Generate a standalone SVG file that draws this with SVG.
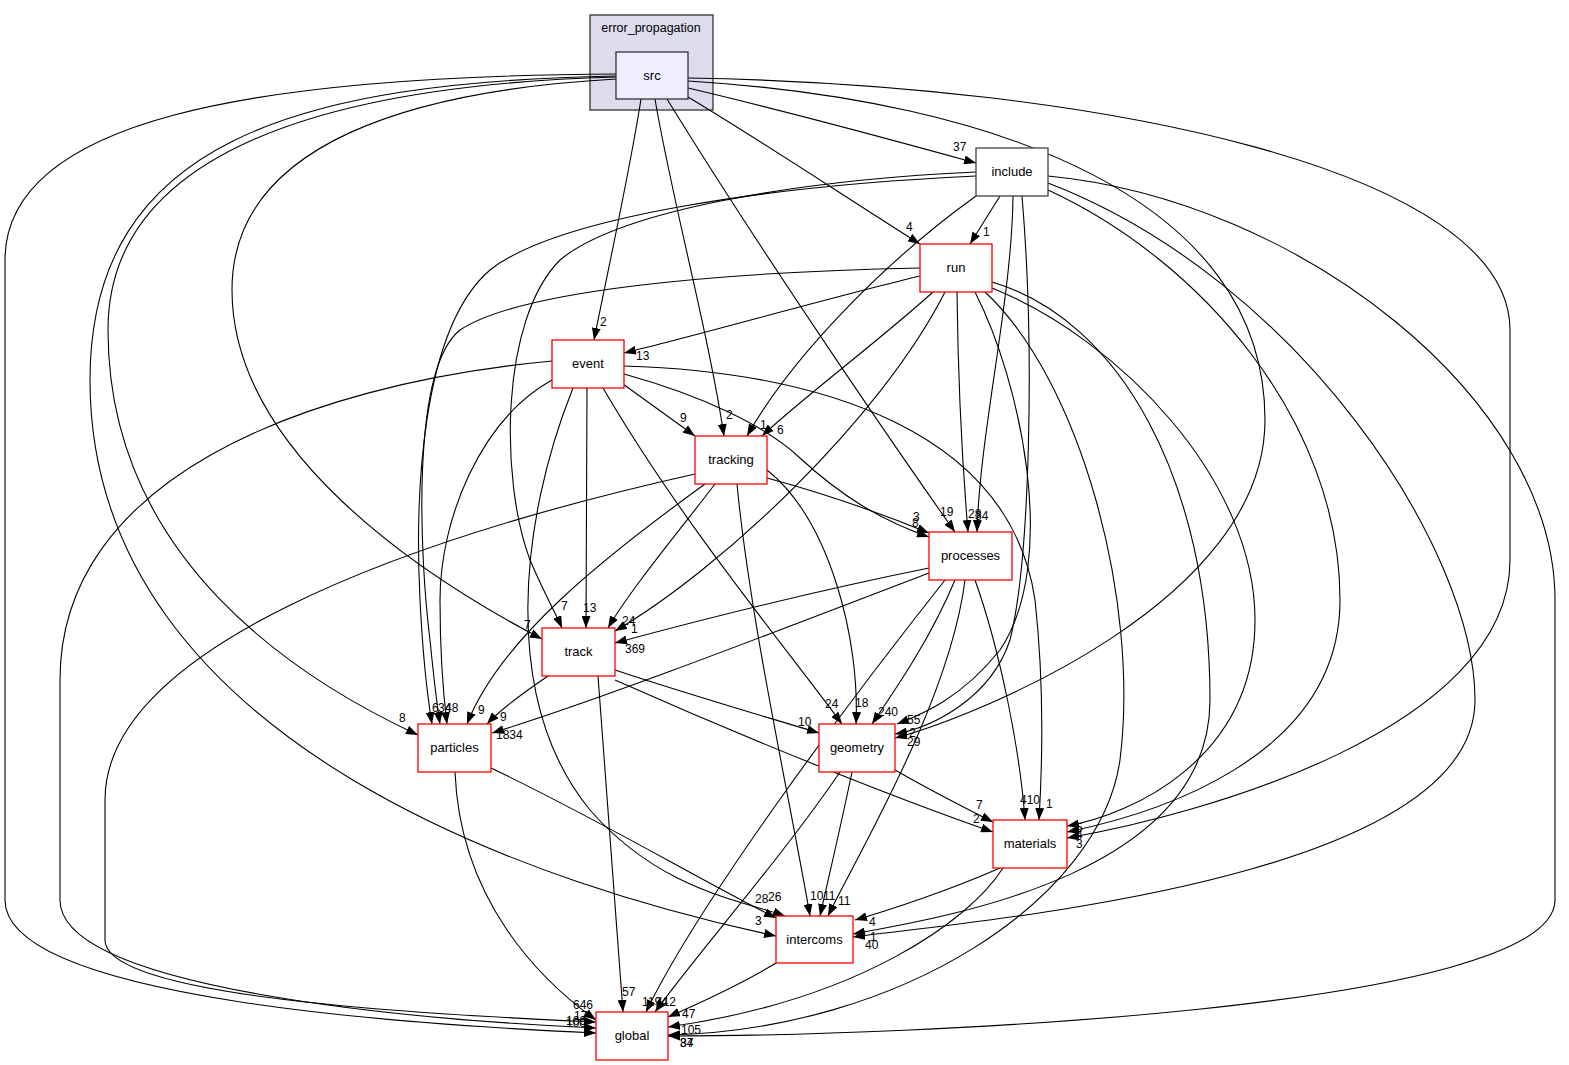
<svg xmlns="http://www.w3.org/2000/svg" width="1569" height="1065" viewBox="0 0 1569 1065">
<defs>
<marker id="ah" markerUnits="userSpaceOnUse" markerWidth="12" markerHeight="9" refX="12" refY="4.5" orient="auto">
<path d="M0,0 L12,4.5 L0,9 z" fill="#000"/>
</marker>
<style>
.bg{fill:#fff}
.cl{fill:#ddddee;stroke:#333;stroke-width:1.3}
.src{fill:#eeeeff;stroke:#333;stroke-width:1.3}
.inc{fill:#fff;stroke:#404040;stroke-width:1.3}
.dir{fill:#fff;stroke:#ff0000;stroke-width:1.3}
.nl{font-family:"Liberation Sans",Arial,sans-serif;font-size:13px;text-anchor:middle;fill:#000}
.cll{font-family:"Liberation Sans",Arial,sans-serif;font-size:12.5px;text-anchor:middle;fill:#000}
#edges path{fill:none;stroke:#000;stroke-width:1.1;marker-end:url(#ah)}
#labels text{font-family:"Liberation Sans",Arial,sans-serif;font-size:12px;fill:#000}
</style>
</defs>
<rect class="bg" x="0" y="0" width="1569" height="1065"/>
<g id="cluster_error_propagation">
<rect class="cl" x="590" y="15" width="123" height="95"/>
<text class="cll" x="651" y="32">error_propagation</text>
</g>
<g id="edges">
<path d="M688,88 C790,112 900,142 976,163"/>
<path d="M688,97 C760,140 850,200 920,244"/>
<path d="M641,99 C630,170 608,270 594,340"/>
<path d="M655,99 C672,200 708,330 724,436"/>
<path d="M667,99 C760,250 890,440 955,532"/>
<path d="M616,79 C420,90 232,140 232,290 C232,450 420,575 542,639"/>
<path d="M616,77 C330,85 108,150 108,330 C108,560 300,680 418,735"/>
<path d="M616,76 C300,82 90,140 90,380 C90,750 560,890 776,936"/>
<path d="M616,74 C250,76 5,120 5,260 L5,900 C5,1000 420,1025 596,1033"/>
<path d="M688,81 C1000,100 1265,200 1265,420 C1265,600 980,715 895,738"/>
<path d="M688,78 C1100,85 1510,170 1510,330 L1510,560 C1510,730 1200,815 1067,838"/>
<path d="M1000,196 L970,244"/>
<path d="M976,196 C880,265 790,360 747,436"/>
<path d="M976,172 C800,180 620,210 560,260 C500,320 500,480 530,560 C545,595 555,612 562,628"/>
<path d="M976,176 C780,185 560,215 490,270 C420,330 415,500 420,600 C423,660 428,700 432,724"/>
<path d="M1013,196 C1012,300 980,430 977,532"/>
<path d="M1022,196 C1035,350 1030,560 1010,640 C990,700 930,728 895,734"/>
<path d="M1048,190 C1200,260 1340,420 1340,600 C1340,760 1150,815 1067,832"/>
<path d="M1048,183 C1300,280 1475,550 1475,700 C1475,880 980,920 853,937"/>
<path d="M1048,176 C1300,200 1555,400 1555,600 L1555,900 C1555,1010 900,1036 668,1036"/>
<path d="M920,276 C820,300 700,335 624,353"/>
<path d="M933,292 C880,340 800,400 762,436"/>
<path d="M945,292 C880,420 720,570 615,631"/>
<path d="M957,292 C958,380 962,460 968,532"/>
<path d="M975,292 C1020,380 1060,560 1000,650 C960,700 920,715 897,724"/>
<path d="M992,288 C1120,340 1255,480 1255,620 C1255,760 1130,815 1067,826"/>
<path d="M992,282 C1120,320 1210,480 1210,700 C1210,870 960,915 853,934"/>
<path d="M985,292 C1080,380 1140,600 1120,760 C1100,900 900,1030 668,1035"/>
<path d="M920,268 C720,272 520,290 460,330 C410,370 420,560 430,640 C434,680 437,705 440,724"/>
<path d="M623,384 L695,436"/>
<path d="M624,374 C700,395 765,425 800,458 C840,495 880,520 929,537"/>
<path d="M587,388 L586,628"/>
<path d="M552,380 C480,420 440,520 440,600 C440,660 444,700 447,724"/>
<path d="M603,388 C680,520 780,640 842,724"/>
<path d="M573,388 C520,520 500,700 590,810 C660,890 740,900 785,916"/>
<path d="M552,361 C300,385 60,480 60,680 L60,900 C60,990 420,1020 596,1028"/>
<path d="M624,366 C820,372 1010,430 1035,600 C1045,690 1042,770 1039,820"/>
<path d="M767,478 C830,495 885,515 929,533"/>
<path d="M715,484 C680,530 630,590 608,628"/>
<path d="M705,484 C600,560 500,640 467,724"/>
<path d="M767,470 C830,520 860,640 856,724"/>
<path d="M737,484 C750,620 790,800 810,916"/>
<path d="M695,474 C400,540 105,650 105,800 L105,940 C105,1000 450,1015 596,1022"/>
<path d="M929,568 C820,590 700,620 615,643"/>
<path d="M929,573 C780,630 600,700 492,733"/>
<path d="M945,580 C850,700 700,900 646,1012"/>
<path d="M955,580 C930,640 895,690 872,724"/>
<path d="M965,580 C950,700 860,850 828,916"/>
<path d="M975,580 C1000,650 1020,750 1025,820"/>
<path d="M548,676 C520,695 500,710 487,724"/>
<path d="M615,670 C690,695 770,718 819,733"/>
<path d="M615,680 C750,740 900,800 993,832"/>
<path d="M598,676 C608,800 616,920 623,1012"/>
<path d="M491,768 C600,820 700,880 776,918"/>
<path d="M455,772 C460,900 540,980 596,1020"/>
<path d="M895,770 C930,790 965,808 993,822"/>
<path d="M852,772 C840,830 828,880 820,916"/>
<path d="M840,772 C780,860 700,950 655,1012"/>
<path d="M1000,868 C950,890 890,910 855,920"/>
<path d="M1003,868 C970,920 860,1000 668,1027"/>
<path d="M776,963 C740,985 700,1003 668,1017"/>
</g>
<g id="labels">
<text x="953" y="151">37</text>
<text x="906" y="231">4</text>
<text x="983" y="236">1</text>
<text x="600" y="326">2</text>
<text x="636" y="360">13</text>
<text x="680" y="422">9</text>
<text x="726" y="419">2</text>
<text x="760" y="429">1</text>
<text x="777" y="434">6</text>
<text x="940" y="516">19</text>
<text x="968" y="518">28</text>
<text x="975" y="520">34</text>
<text x="913" y="521">3</text>
<text x="912" y="527">8</text>
<text x="561" y="610">7</text>
<text x="583" y="612">13</text>
<text x="622" y="625">24</text>
<text x="631" y="633">1</text>
<text x="524" y="629">7</text>
<text x="625" y="653">369</text>
<text x="432" y="712">6</text>
<text x="438" y="712">34</text>
<text x="445" y="712">48</text>
<text x="478" y="714">9</text>
<text x="500" y="721">9</text>
<text x="399" y="722">8</text>
<text x="496" y="739">1834</text>
<text x="825" y="708">24</text>
<text x="855" y="707">18</text>
<text x="878" y="716">240</text>
<text x="907" y="724">55</text>
<text x="909" y="737">2</text>
<text x="907" y="746">29</text>
<text x="798" y="726">10</text>
<text x="976" y="809">7</text>
<text x="973" y="823">2</text>
<text x="1020" y="804">410</text>
<text x="1046" y="808">1</text>
<text x="1076" y="832">5</text>
<text x="1076" y="839">4</text>
<text x="1076" y="848">3</text>
<text x="755" y="903">28</text>
<text x="768" y="901">26</text>
<text x="810" y="900">10</text>
<text x="823" y="900">11</text>
<text x="838" y="905">11</text>
<text x="755" y="925">3</text>
<text x="869" y="926">4</text>
<text x="870" y="941">1</text>
<text x="865" y="949">40</text>
<text x="622" y="996">57</text>
<text x="642" y="1006">1194</text>
<text x="656" y="1006">412</text>
<text x="573" y="1009">646</text>
<text x="574" y="1020">17</text>
<text x="566" y="1025">106</text>
<text x="566" y="1027">100</text>
<text x="682" y="1018">47</text>
<text x="681" y="1034">105</text>
<text x="680" y="1047">84</text>
<text x="680" y="1047">37</text>
</g>
<g id="node_src"><rect class="src" x="616" y="52" width="72" height="47"/><text class="nl" x="652" y="80">src</text></g>
<g id="node_include"><rect class="inc" x="976" y="148" width="72" height="48"/><text class="nl" x="1012" y="176">include</text></g>
<g id="node_run"><rect class="dir" x="920" y="244" width="72" height="48"/><text class="nl" x="956" y="272">run</text></g>
<g id="node_event"><rect class="dir" x="552" y="340" width="72" height="48"/><text class="nl" x="588" y="368">event</text></g>
<g id="node_tracking"><rect class="dir" x="695" y="436" width="72" height="48"/><text class="nl" x="731" y="464">tracking</text></g>
<g id="node_processes"><rect class="dir" x="929" y="532" width="83" height="48"/><text class="nl" x="970.5" y="560">processes</text></g>
<g id="node_track"><rect class="dir" x="542" y="628" width="73" height="48"/><text class="nl" x="578.5" y="656">track</text></g>
<g id="node_particles"><rect class="dir" x="418" y="724" width="73" height="48"/><text class="nl" x="454.5" y="752">particles</text></g>
<g id="node_geometry"><rect class="dir" x="819" y="724" width="76" height="48"/><text class="nl" x="857" y="752">geometry</text></g>
<g id="node_materials"><rect class="dir" x="993" y="820" width="74" height="48"/><text class="nl" x="1030" y="848">materials</text></g>
<g id="node_intercoms"><rect class="dir" x="776" y="916" width="77" height="47"/><text class="nl" x="814.5" y="944">intercoms</text></g>
<g id="node_global"><rect class="dir" x="596" y="1012" width="72" height="48"/><text class="nl" x="632" y="1040">global</text></g>
</svg>
